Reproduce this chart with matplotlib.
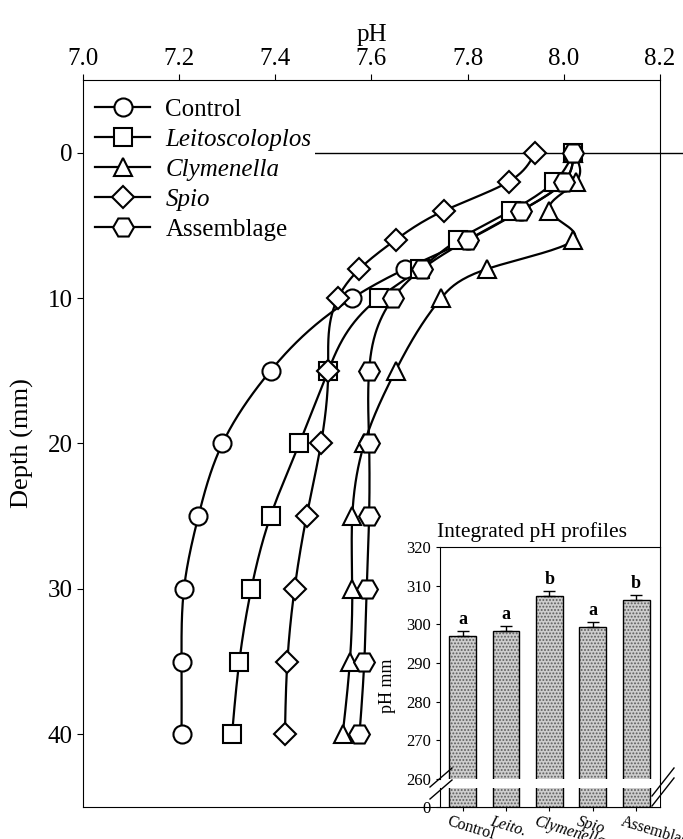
import matplotlib
matplotlib.use('Agg')
import matplotlib.pyplot as plt
import matplotlib.transforms as mtransforms
import numpy as np
from matplotlib.lines import Line2D

plt.rcParams['font.family'] = ['Liberation Serif', 'DejaVu Serif']
plt.rcParams['hatch.linewidth'] = 0.9

# depth profiles (mm) and pH
depth = [0, 2, 4, 6, 8, 10, 15, 20, 25, 30, 35, 40]
ph_control = [8.02, 8.00, 7.91, 7.80, 7.67, 7.56, 7.39, 7.29, 7.24, 7.21, 7.205, 7.205]
ph_leito = [8.02, 7.98, 7.89, 7.78, 7.70, 7.615, 7.51, 7.45, 7.39, 7.35, 7.325, 7.31]
ph_clym = [8.02, 8.025, 7.97, 8.02, 7.84, 7.745, 7.65, 7.585, 7.56, 7.56, 7.555, 7.54]
ph_spio = [7.94, 7.885, 7.75, 7.65, 7.575, 7.53, 7.51, 7.495, 7.465, 7.44, 7.425, 7.42]
ph_assem = [8.02, 8.00, 7.91, 7.80, 7.705, 7.645, 7.595, 7.595, 7.595, 7.59, 7.585, 7.575]

series_names = ['Control', 'Leitoscoloplos', 'Clymenella', 'Spio', 'Assemblage']
series_markers = ['o', 's', '^', 'D', 'H']
marker_sizes = [13, 13, 13, 11, 15]

# inset: integrated pH profiles
treatments = ['Control', 'Leito.', 'Clymenella', 'Spio', 'Assemblage']
integrated = [296.9, 298.4, 307.2, 299.3, 306.3]
integrated_se = [1.3, 1.2, 1.3, 1.2, 1.3]
groups = ['a', 'a', 'b', 'a', 'b']


def spline(x, y, n=400):
    # natural cubic spline, only used to draw the smooth curve
    x = np.asarray(x, float)
    y = np.asarray(y, float)
    k = len(x)
    h = np.diff(x)
    A = np.zeros((k, k))
    r = np.zeros(k)
    A[0, 0] = A[-1, -1] = 1
    for i in range(1, k - 1):
        A[i, i - 1] = h[i - 1]
        A[i, i] = 2 * (h[i - 1] + h[i])
        A[i, i + 1] = h[i]
        r[i] = 6 * ((y[i + 1] - y[i]) / h[i] - (y[i] - y[i - 1]) / h[i - 1])
    m = np.linalg.solve(A, r)
    xs = np.linspace(x[0], x[-1], n)
    idx = np.clip(np.searchsorted(x, xs) - 1, 0, k - 2)
    x0, x1 = x[idx], x[idx + 1]
    hh = x1 - x0
    t0, t1 = x1 - xs, xs - x0
    ys = (m[idx] * t0 ** 3 + m[idx + 1] * t1 ** 3) / (6 * hh) \
        + (y[idx] / hh - m[idx] * hh / 6) * t0 \
        + (y[idx + 1] / hh - m[idx + 1] * hh / 6) * t1
    return xs, ys


W, H = 683, 839
fig = plt.figure(figsize=(W / 100, H / 100), dpi=100)
ax = fig.add_axes([83 / W, 1 - 807 / H, 577 / W, 727 / H])

all_ph = [ph_control, ph_leito, ph_clym, ph_spio, ph_assem]
for ph, mk, ms in zip(all_ph, series_markers, marker_sizes):
    d, p = spline(depth, ph)
    ax.plot(p, d, color='k', lw=1.6, zorder=2)
    ax.plot(ph, depth, ls='none', marker=mk, ms=ms, mfc='white', mec='k',
            mew=1.5, zorder=3)

ax.axhline(0, xmin=0.39, xmax=1.04, color='k', lw=1, clip_on=False, zorder=1)

ax.set_xlim(7.0, 8.2)
ax.set_ylim(45, -5)
ax.set_xticks(np.arange(7.0, 8.21, 0.2))
ax.set_xticklabels(['%.1f' % v for v in np.arange(7.0, 8.21, 0.2)])
ax.set_yticks([0, 10, 20, 30, 40])
ax.xaxis.tick_top()
ax.xaxis.set_label_position('top')
ax.tick_params(axis='x', top=True, bottom=False, direction='out', length=4,
               labelsize=18, pad=3)
ax.tick_params(axis='y', left=True, right=False, direction='out', length=4,
               labelsize=18)
ax.set_xlabel('pH', fontsize=18, labelpad=5)
ax.set_ylabel('Depth (mm)', fontsize=19, labelpad=10)

handles = [Line2D([], [], color='k', lw=1.6, marker=mk, ms=ms, mfc='white',
                  mec='k', mew=1.5)
           for mk, ms in zip(series_markers, marker_sizes)]
leg = ax.legend(handles, series_names, loc='upper left',
                bbox_to_anchor=(0.015, 0.98), fontsize=18, handlelength=2.2,
                handletextpad=0.6, labelspacing=0.3, borderpad=0.15,
                borderaxespad=0, frameon=True, fancybox=False)
leg.get_frame().set_facecolor('white')
leg.get_frame().set_edgecolor('none')
leg.get_frame().set_alpha(1)
for t in leg.get_texts()[1:4]:
    t.set_fontstyle('italic')

# inset with broken y axis
pos = np.arange(len(treatments))
axu = fig.add_axes([440 / W, 1 - 779 / H, 220 / W, 232 / H])
axl = fig.add_axes([440 / W, 1 - 807 / H, 220 / W, 19 / H])
for a in (axu, axl):
    a.bar(pos, integrated, width=0.62, color='#cdcdcd', edgecolor='#5c5c5c',
          lw=0, hatch='.....', zorder=2)
    a.bar(pos, integrated, width=0.62, fill=False, edgecolor='k', lw=1,
          zorder=2.5)
    a.set_xlim(-0.52, 4.55)
    a.tick_params(labelsize=12, length=3, direction='out')

axu.errorbar(pos, integrated, yerr=[np.zeros(len(pos)), integrated_se],
             fmt='none', ecolor='k', elinewidth=1, capsize=4, capthick=1,
             zorder=3)
for p, v, e, g in zip(pos, integrated, integrated_se, groups):
    axu.text(p, v + e + 0.8, g, ha='center', va='bottom', fontsize=13,
             fontweight='bold')
axu.set_ylim(260, 320)
axu.set_yticks(np.arange(260, 321, 10))
axu.set_xticks([])
axu.spines['bottom'].set_visible(False)
axu.set_title('Integrated pH profiles', fontsize=15.5, pad=7, x=0.42)
axu.set_ylabel('pH mm', fontsize=13, labelpad=3)
axu.yaxis.set_label_coords(-0.2, 0.4)

axl.set_ylim(0, 10)
axl.set_yticks([0])
axl.spines['top'].set_visible(False)
axl.spines['right'].set_visible(False)
axl.set_xticks(pos)
axl.set_xticklabels(treatments, rotation=-17, ha='left', va='top',
                    rotation_mode='anchor', fontsize=11.5)
axl.tick_params(axis='x', pad=2)
shift = mtransforms.ScaledTranslation(-13 / 100, 0, fig.dpi_scale_trans)
for i, lab in enumerate(axl.get_xticklabels()):
    lab.set_transform(lab.get_transform() + shift)
    if i in (1, 2, 3):
        lab.set_fontstyle('italic')

# break marks
for (x0, y0, x1, y1) in [(430, 787, 452, 768), (430, 799, 452, 780),
                         (652, 796, 674, 768), (652, 806, 674, 778)]:
    fig.add_artist(Line2D([x0 / W, x1 / W], [1 - y0 / H, 1 - y1 / H],
                          transform=fig.transFigure, color='k', lw=1))

fig.savefig('out.png', dpi=100)
